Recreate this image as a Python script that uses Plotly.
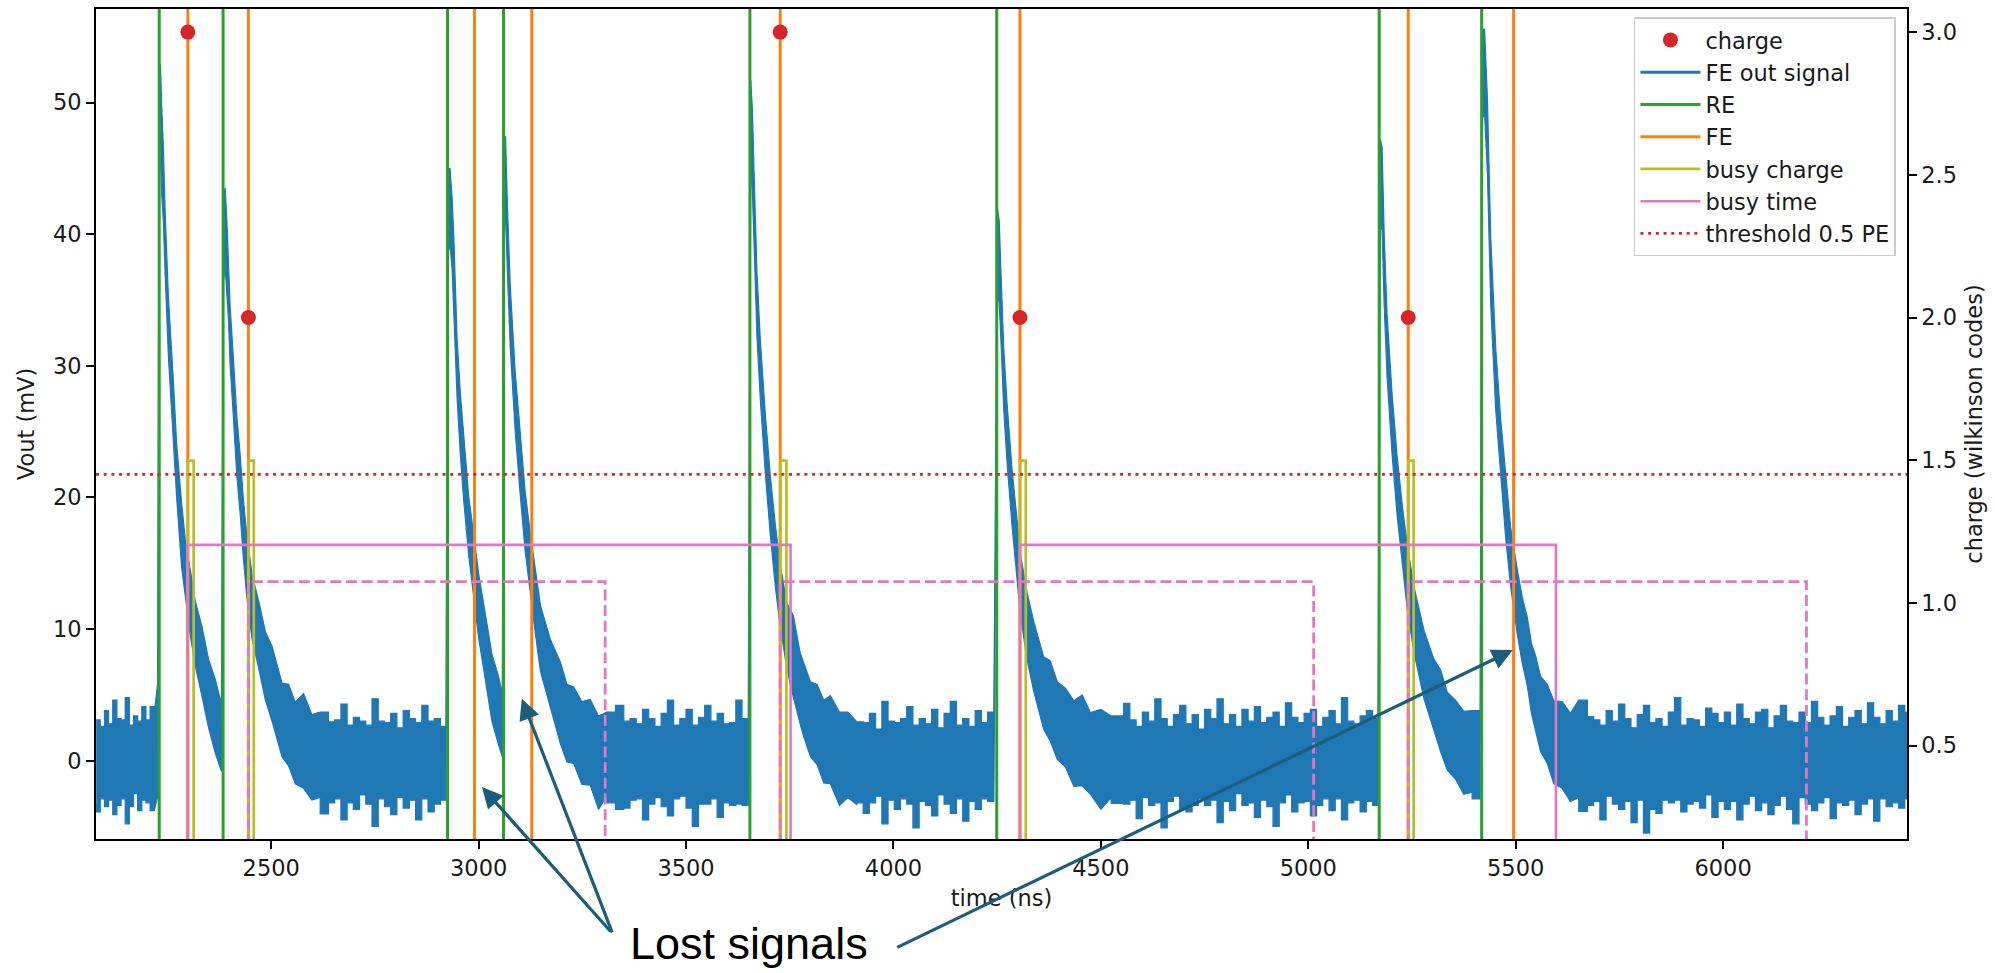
import plotly.graph_objects as go

# ---------------- axes ----------------
x_range = [2077.6, 6443.4]
x_ticks = [2500, 3000, 3500, 4000, 4500, 5000, 5500, 6000]
y_range = [-5.95, 57.11]
y_ticks = [0, 10, 20, 30, 40, 50]
y2_range = [0.1726, 3.081]
y2_ticks = [0.5, 1.0, 1.5, 2.0, 2.5, 3.0]
y2_ticktext = ["0.5", "1.0", "1.5", "2.0", "2.5", "3.0"]

# ---------------- discriminator events (ns) ----------------
re_times = [2230, 2384, 2925, 3060, 3654, 4249, 5171, 5418]
fe_times = [2299, 2445, 2990, 3128, 3727, 4305, 5241, 5495]

charge_times = [2299, 2445, 3727, 4305, 5241]
charge_values = [3.0, 2.0, 3.0, 2.0, 2.0]

busy_charge_start = [2299, 2445, 3727, 4305, 5241]
busy_charge_end = [2313, 2458, 3742, 4319, 5254]
busy_charge_level = 22.8

busy_time_start = [2298, 4305]
busy_time_end = [3752, 5597]
busy_time_level = 16.4

busy_time2_start = [2445, 3727, 5241]
busy_time2_end = [3305, 5013, 6201]
busy_time2_level = 13.6

idle_level = -10.0          # idle state of the busy flags (below visible range)
threshold_mv = 21.75

# ---------------- FE out signal (mV): sample times, mean level, noise excursions ----------------
sig_t = [
    2078, 2088, 2098, 2108, 2118, 2128, 2138, 2148, 2158, 2168, 2178, 2188, 2198, 2208, 2218, 2226,
    2230, 2233, 2236, 2240, 2244, 2252, 2264, 2272, 2284, 2294, 2305, 2317, 2333, 2349, 2365, 2380,
    2385, 2389, 2393, 2397, 2401, 2409, 2417, 2425, 2433, 2441, 2454, 2470, 2486, 2502, 2526, 2542, 2558, 2578, 2598, 2618, 2638,
    2653, 2668, 2683, 2698, 2713, 2728, 2743, 2758, 2773, 2788, 2803, 2818, 2833, 2848, 2863, 2878, 2893, 2908, 2921,
    2926, 2931, 2936, 2940, 2948, 2956, 2964, 2976, 2988, 3000, 3016, 3032, 3048, 3057,
    3061, 3065, 3069, 3076, 3088, 3100, 3112, 3124, 3137, 3149, 3173, 3197, 3213, 3229, 3249, 3269, 3289, 3309, 3330, 3350,
    3365, 3380, 3395, 3410, 3425, 3440, 3455, 3470, 3485, 3500, 3515, 3530, 3545, 3560, 3575, 3590, 3605, 3620, 3635, 3650,
    3656, 3660, 3664, 3671, 3679, 3691, 3703, 3715, 3727, 3743, 3759, 3775, 3784, 3800, 3816, 3832, 3848, 3870, 3890, 3912,
    3927, 3942, 3957, 3972, 3987, 4002, 4017, 4032, 4047, 4062, 4077, 4092, 4107, 4122, 4137, 4152, 4167, 4182, 4197, 4212, 4227, 4242,
    4251, 4255, 4259, 4266, 4274, 4286, 4298, 4306, 4322, 4338, 4362, 4378, 4395, 4415, 4435, 4455, 4475, 4500, 4525, 4555,
    4570, 4585, 4600, 4615, 4630, 4645, 4660, 4675, 4690, 4705, 4720, 4735, 4750, 4765, 4780, 4795, 4810, 4825, 4840, 4855,
    4870, 4885, 4900, 4915, 4930, 4945, 4960, 4975, 4990, 5005, 5020, 5035, 5050, 5065, 5080, 5095, 5110, 5125, 5140, 5155, 5168,
    5174, 5178, 5183, 5190, 5202, 5214, 5227, 5239, 5255, 5279, 5303, 5319, 5335, 5355, 5375, 5395, 5414,
    5420, 5425, 5432, 5440, 5452, 5464, 5476, 5488, 5504, 5516, 5528, 5538, 5548, 5560, 5576, 5592, 5612, 5632, 5652, 5673,
    5688, 5703, 5718, 5733, 5748, 5763, 5778, 5793, 5808, 5823, 5838, 5853, 5868, 5883, 5898, 5913, 5928, 5943, 5958, 5973,
    5988, 6003, 6018, 6033, 6048, 6063, 6078, 6093, 6108, 6123, 6138, 6153, 6168, 6183, 6198, 6213, 6228, 6243, 6258, 6273,
    6288, 6303, 6318, 6333, 6348, 6363, 6378, 6393, 6408, 6423, 6438, 6446,
]
sig_mid = [
    0, 0.2, -0.1, 0.1, 0, 0.3, -0.2, 0, 0.1, -0.1, 0.2, 0, 0.1, 0.3, 0.4, 1.2,
    48.0, 49.5, 46.5, 44.0, 39.6, 33.1, 26.6, 22.1, 17.2, 14.3, 11.9, 9.8, 7.4, 5.3, 3.3, 1.7,
    40.0, 40.5, 38.5, 36.0, 32.3, 28.2, 24.1, 20.9, 17.6, 14.7, 11.8, 9.4, 7.4, 5.6, 3.3, 2.4, 1.65, 1.0, 0.6, 0.4, 0.25,
    0.2, 0, 0.1, -0.1, 0, 0.2, 0, -0.1, 0.1, 0, 0.1, -0.1, 0, 0.2, 0, 0.1, -0.1, 0, 0.1,
    41.5, 42.0, 40.0, 37.5, 29.8, 25.7, 22.1, 18.0, 14.7, 11.9, 8.6, 5.7, 3.7, 2.6,
    43.8, 44.0, 40.0, 33.9, 27.4, 22.5, 18.4, 15.1, 11.9, 9.4, 6.5, 4.1, 3.2, 2.5, 1.7, 1.05, 0.7, 0.4, 0.2, 0.1,
    0, 0.1, -0.1, 0.2, 0, 0.1, 0, -0.1, 0.1, 0, 0.2, 0, -0.1, 0.1, 0, 0.1, -0.1, 0.2, 0, 0.3,
    48.3, 46.5, 42.1, 34.7, 29.8, 24.1, 19.6, 15.6, 12.7, 9.4, 7.4, 5.7, 4.5, 3.4, 2.5, 1.8, 1.25, 0.8, 0.5, 0.25,
    0.1, 0, -0.1, 0.1, 0, 0.2, -0.1, 0, 0.1, 0, -0.1, 0.1, 0, 0.2, 0, -0.1, 0.1, 0, 0.1, 0, 0.2, 0.3,
    38.6, 38.0, 34.7, 29.0, 24.9, 20.0, 15.9, 13.5, 10.3, 7.8, 5.3, 4.2, 3.3, 2.4, 1.65, 1.2, 0.85, 0.6, 0.4, 0.25,
    0.1, 0, -0.1, 0.1, 0.2, 0, -0.1, 0, 0.1, 0, 0.2, -0.1, 0, 0.1, 0, -0.1, 0.1, 0, 0.2, 0,
    -0.1, 0.1, 0, 0.1, -0.1, 0, 0.2, 0, 0.1, -0.1, 0, 0.1, 0, -0.1, 0.2, 0, 0.1, 0, -0.1, 0.1, 0.2,
    43.8, 43.4, 37.2, 31.5, 25.7, 20.9, 17.2, 13.9, 10.6, 7.4, 4.9, 3.6, 2.5, 1.6, 0.85, 0.4, 0.1,
    52.0, 52.2, 47.4, 37.2, 29.0, 23.7, 19.2, 15.6, 11.9, 10.0, 8.2, 6.4, 5.0, 3.7, 2.6, 1.65, 1.0, 0.6, 0.4, 0.25,
    0.1, 0, -0.1, 0.2, 0, 0.1, -0.1, 0, 0.2, 0, -0.1, 0.1, 0, 0.2, -0.1, 0, 0.1, 0, -0.1, 0.2,
    0, 0.1, 0, -0.1, 0.1, 0, 0.2, 0, -0.1, 0.1, 0, 0.1, -0.1, 0, 0.2, 0, 0.1, -0.1, 0, 0.1,
    0, 0.2, 0, -0.1, 0.1, 0, 0.1, 0.2, 0, 0.1, 0.2, 0.3,
]
sig_up = [
    3.1, 2.4, 3.9, 2.7, 4.6, 2.9, 3.3, 4.8, 2.6, 3.5, 2.8, 4.1, 3.0, 3.8, 3.2, 4.6,
    4.5, 3.4, 3.2, 2.6, 2.4, 2.2, 2.3, 2.0, 2.4, 2.1, 2.6, 2.3, 2.8, 2.4, 2.9, 2.6,
    3.0, 3.0, 2.6, 2.4, 2.2, 2.3, 2.1, 2.4, 2.2, 2.5, 2.3, 2.7, 2.4, 3.1, 2.6, 3.4, 2.8, 4.1, 2.9, 3.3, 2.7,
    2.9, 4.3, 2.6, 3.4, 3.0, 2.5, 4.7, 3.1, 2.8, 3.6, 2.4, 3.9, 3.2, 2.7, 4.2, 2.9, 3.3, 2.6, 3.0,
    3.4, 3.0, 2.8, 2.5, 2.3, 2.2, 2.4, 2.1, 2.5, 2.3, 2.6, 2.4, 2.7, 2.5,
    3.6, 3.4, 2.6, 2.3, 2.2, 2.4, 2.1, 2.3, 2.5, 2.4, 2.7, 3.4, 2.6, 3.1, 2.8, 3.6, 2.7, 3.3, 4.0, 2.9,
    3.2, 2.7, 4.0, 3.0, 2.6, 3.5, 4.6, 2.8, 3.1, 3.9, 2.5, 3.3, 4.3, 2.9, 3.6, 2.7, 3.0, 4.4, 3.2, 3.5,
    3.4, 3.0, 2.6, 2.4, 2.2, 2.3, 2.1, 2.4, 2.2, 2.6, 3.6, 2.5, 2.9, 2.6, 3.3, 2.8, 3.7, 2.9, 3.2, 2.7,
    2.8, 3.6, 2.5, 4.4, 3.0, 2.7, 3.3, 4.1, 2.6, 3.2, 2.9, 3.8, 2.5, 3.4, 4.5, 2.8, 3.1, 2.6, 3.7, 2.9, 3.5, 3.9,
    3.3, 3.0, 2.6, 2.3, 2.2, 2.1, 2.4, 2.2, 2.5, 2.8, 2.6, 3.4, 2.7, 3.1, 2.9, 3.8, 2.8, 3.3, 3.0, 4.1,
    3.0, 2.6, 3.8, 2.9, 4.5, 3.2, 2.7, 3.5, 4.1, 2.8, 3.3, 2.5, 3.9, 3.1, 4.7, 2.9, 3.4, 2.6, 3.7, 3.0,
    4.2, 2.8, 3.3, 3.6, 2.7, 4.4, 3.1, 2.9, 3.5, 4.0, 2.6, 3.2, 3.8, 2.9, 4.6, 3.0, 2.7, 3.4, 3.9, 3.1, 3.3,
    3.4, 3.2, 2.8, 2.4, 2.2, 2.3, 2.1, 2.4, 2.6, 2.5, 2.8, 3.3, 2.7, 3.0, 2.9, 3.4, 2.9,
    3.5, 3.4, 2.8, 2.5, 2.3, 2.2, 2.4, 2.1, 2.6, 2.4, 2.7, 2.5, 3.0, 2.7, 3.2, 2.9, 3.5, 3.0, 4.2, 3.1,
    3.0, 2.7, 3.9, 2.8, 4.3, 3.1, 2.6, 3.5, 4.0, 2.9, 3.3, 2.5, 3.7, 4.6, 2.8, 3.2, 3.0, 2.6, 4.1, 3.4,
    2.9, 3.6, 2.7, 4.4, 3.1, 2.8, 3.5, 3.9, 2.6, 3.3, 4.2, 2.9, 3.0, 3.7, 2.7, 4.5, 3.2, 2.8, 3.4, 4.0,
    2.6, 3.1, 3.8, 2.9, 4.3, 3.3, 2.7, 3.6, 3.0, 4.1, 3.5, 3.9,
]
sig_dn = [
    3.3, 4.1, 2.8, 3.6, 3.0, 4.4, 3.2, 2.9, 4.9, 3.4, 2.7, 3.8, 3.1, 3.5, 4.2, 4.0,
    4.0, 3.0, 3.5, 3.0, 2.4, 2.3, 2.2, 2.1, 2.5, 2.2, 2.4, 2.6, 2.5, 2.8, 2.7, 2.5,
    3.5, 3.0, 2.8, 2.5, 2.3, 2.2, 2.4, 2.1, 2.3, 2.2, 2.6, 2.4, 2.8, 2.6, 3.0, 2.8, 3.4, 3.1, 3.6, 3.2, 4.3,
    3.4, 2.9, 4.6, 3.1, 3.7, 2.8, 3.3, 4.9, 3.0, 3.5, 4.2, 2.7, 3.6, 3.2, 4.5, 3.0, 3.8, 3.3, 3.1,
    3.0, 2.8, 2.6, 2.4, 2.2, 2.5, 2.3, 2.4, 2.2, 2.6, 2.4, 2.7, 2.5, 2.3,
    3.2, 3.0, 2.7, 2.4, 2.3, 2.2, 2.4, 2.2, 2.3, 2.6, 2.5, 2.8, 3.3, 2.7, 3.5, 2.9, 4.4, 3.1, 3.4, 3.8,
    3.6, 3.1, 2.8, 4.7, 3.3, 2.9, 3.5, 4.1, 3.0, 2.7, 3.8, 5.0, 3.2, 3.4, 2.9, 4.4, 3.1, 3.6, 3.3, 3.7,
    3.2, 3.3, 2.8, 2.5, 2.3, 2.2, 2.4, 2.3, 2.5, 2.4, 2.6, 2.9, 2.7, 3.1, 2.8, 3.5, 3.0, 4.2, 3.3, 3.6,
    3.3, 4.0, 3.1, 2.8, 4.8, 3.2, 3.6, 2.9, 3.4, 5.1, 3.0, 3.5, 4.2, 2.8, 3.3, 3.9, 3.0, 4.6, 3.2, 3.7, 3.1, 3.4,
    3.0, 3.2, 2.7, 2.4, 2.3, 2.2, 2.1, 2.4, 2.6, 2.5, 2.9, 2.7, 3.2, 2.9, 3.6, 3.1, 3.4, 4.3, 3.2, 3.5,
    3.4, 3.0, 4.3, 2.9, 3.6, 3.2, 5.0, 3.1, 2.8, 3.7, 4.1, 3.3, 2.9, 3.5, 3.0, 4.6, 3.2, 3.8, 2.7, 3.4,
    3.1, 4.4, 3.0, 3.6, 4.9, 3.2, 2.8, 3.9, 3.3, 3.0, 4.2, 3.5, 2.9, 3.7, 3.1, 4.5, 3.3, 3.0, 3.8, 3.2, 3.6,
    3.0, 3.1, 2.6, 2.3, 2.4, 2.2, 2.3, 2.5, 2.4, 2.7, 2.6, 2.9, 3.2, 3.0, 3.4, 2.8, 3.0,
    3.2, 3.0, 2.9, 2.6, 2.4, 2.2, 2.3, 2.4, 2.3, 2.6, 2.5, 2.8, 2.6, 3.0, 2.8, 3.4, 3.1, 3.7, 3.2, 4.1,
    3.5, 3.1, 4.4, 2.9, 3.3, 3.8, 3.0, 4.7, 3.2, 5.5, 3.6, 4.1, 3.0, 3.4, 2.9, 3.9, 3.4, 3.1, 3.5, 2.8,
    4.3, 3.2, 3.7, 3.0, 4.6, 3.3, 2.9, 3.8, 3.1, 4.2, 3.4, 2.8, 3.6, 4.8, 3.0, 3.3, 3.9, 3.1, 2.8, 4.5,
    3.2, 3.6, 3.0, 4.0, 3.4, 2.9, 4.7, 3.1, 3.5, 3.3, 3.8, 3.2,
]

# ---------------- annotations ----------------
note_text = "Lost signals"
lost_heads_t = [3008, 3104, 5493]
lost_heads_v = [-2.0, 4.7, 8.4]

n = len(sig_t)
if not (len(sig_mid) == n and len(sig_up) == n and len(sig_dn) == n):
    raise SystemExit(f"length mismatch {n} {len(sig_mid)} {len(sig_up)} {len(sig_dn)}")

BLUE = "#1f77b4"
GREEN = "#2ca02c"
ORANGE = "#ff7f0e"
OLIVE = "#bcbd22"
PINK = "#e377c2"
RED = "#d62728"
ARROW = "#1b5e7c"
FONT = "DejaVu Sans"
FS = 22.5

sig_hi = [m + u for m, u in zip(sig_mid, sig_up)]
sig_lo = [m - d for m, d in zip(sig_mid, sig_dn)]

# outline of the noise band: sample-and-hold steps on the flat baseline,
# straight segments along the pulse decays
def quiet(i):
    return abs(sig_mid[i]) < 0.5

def edge(vals, order):
    xs, ys = [], []
    prev = None
    for i in order:
        if prev is not None and quiet(i) and quiet(prev):
            xs.append(sig_t[i])
            ys.append(vals[prev])
        xs.append(sig_t[i])
        ys.append(vals[i])
        prev = i
    return xs, ys

ux, uy = edge(sig_hi, range(n))
lx, ly = edge(sig_lo, range(n - 1, -1, -1))

fig = go.Figure()

fig.add_trace(go.Scatter(
    x=ux + lx, y=uy + ly,
    mode="lines", fill="toself", fillcolor=BLUE,
    line=dict(color=BLUE, width=1.2), showlegend=False, hoverinfo="skip"))
fig.add_trace(go.Scatter(x=[None], y=[None], mode="lines", name="FE out signal",
                         line=dict(color=BLUE, width=3), legendrank=2))

def vlines(times):
    xs, ys = [], []
    for t in times:
        xs += [t, t, None]
        ys += [y_range[0] - 10, y_range[1] + 10, None]
    return xs, ys

xs, ys = vlines(re_times)
fig.add_trace(go.Scatter(x=xs, y=ys, mode="lines", name="RE",
                         line=dict(color=GREEN, width=3), legendrank=3))
xs, ys = vlines(fe_times)
fig.add_trace(go.Scatter(x=xs, y=ys, mode="lines", name="FE",
                         line=dict(color=ORANGE, width=3), legendrank=4))

def pulses(starts, ends, level):
    xs, ys = [], []
    for s, e in zip(starts, ends):
        xs += [s, s, e, e, None]
        ys += [idle_level, level, level, idle_level, None]
    return xs, ys

xs, ys = pulses(busy_charge_start, busy_charge_end, busy_charge_level)
fig.add_trace(go.Scatter(x=xs, y=ys, mode="lines", name="busy charge",
                         line=dict(color=OLIVE, width=2.7), legendrank=5))
xs, ys = pulses(busy_time_start, busy_time_end, busy_time_level)
fig.add_trace(go.Scatter(x=xs, y=ys, mode="lines", name="busy time",
                         line=dict(color=PINK, width=2.6), legendrank=6))
xs, ys = pulses(busy_time2_start, busy_time2_end, busy_time2_level)
fig.add_trace(go.Scatter(x=xs, y=ys, mode="lines", showlegend=False,
                         line=dict(color=PINK, width=2.8, dash="11px,4.7px")))

fig.add_trace(go.Scatter(x=x_range, y=[threshold_mv, threshold_mv], mode="lines",
                         name="threshold 0.5 PE",
                         line=dict(color=RED, width=2.8, dash="3px,4.7px"), legendrank=7))

fig.add_trace(go.Scatter(x=charge_times, y=charge_values, mode="markers", name="charge",
                         yaxis="y2", marker=dict(color=RED, size=15), legendrank=1))

annotations = []
tails = [(130, 146), (91, 235), (-617, 298)]
for (t, v), (ax, ay) in zip(zip(lost_heads_t, lost_heads_v), tails):
    annotations.append(dict(x=t, y=v, xref="x", yref="y", text="", showarrow=True,
                            ax=ax, ay=ay, arrowhead=2, arrowsize=1.3, arrowwidth=3.2,
                            arrowcolor=ARROW, standoff=0, startstandoff=0))
annotations.append(dict(x=0.3606, y=-0.1262, xref="paper", yref="paper", text=note_text,
                        showarrow=False, xanchor="center", yanchor="middle",
                        font=dict(family="Liberation Sans, Arial", size=45, color="black")))

axis_common = dict(showline=True, linecolor="black", linewidth=1.6, ticks="outside",
                   ticklen=8, tickwidth=1.6, tickcolor="black", showgrid=False,
                   zeroline=False, tickfont=dict(family=FONT, size=FS, color="#1a1a1a"))

fig.update_layout(
    width=1995, height=973,
    margin=dict(l=96, r=88, t=7, b=134),
    paper_bgcolor="white", plot_bgcolor="white",
    font=dict(family=FONT, size=FS, color="#1a1a1a"),
    xaxis=dict(range=x_range, tickvals=x_ticks, mirror=True,
               title=dict(text="time (ns)", standoff=10, font=dict(family=FONT, size=FS)),
               **axis_common),
    yaxis=dict(range=y_range, tickvals=y_ticks, mirror=True,
               title=dict(text="Vout (mV)", standoff=12, font=dict(family=FONT, size=FS)),
               **axis_common),
    yaxis2=dict(range=y2_range, tickvals=y2_ticks, ticktext=y2_ticktext, overlaying="y",
                side="right",
                title=dict(text="charge (wilkinson codes)", standoff=10,
                           font=dict(family=FONT, size=FS)),
                **axis_common),
    legend=dict(x=0.9939, y=0.990, xanchor="right", yanchor="top", itemwidth=60,
                bgcolor="rgba(255,255,255,0.85)", bordercolor="#cccccc", borderwidth=1.5,
                font=dict(family=FONT, size=FS, color="#1a1a1a"), tracegroupgap=0),
    annotations=annotations,
    showlegend=True,
)

fig.write_html("out.html")
